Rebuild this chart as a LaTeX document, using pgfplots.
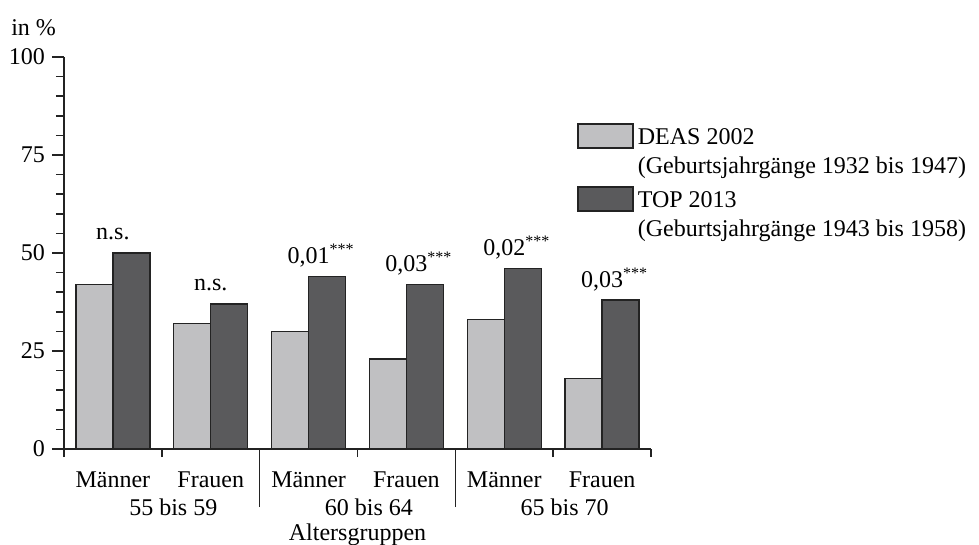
\documentclass[border=0pt]{standalone}
\usepackage{fontspec}
\setmainfont{Liberation Serif}
\usepackage{pgfplots}
\pgfplotsset{compat=1.18}
\definecolor{deas}{RGB}{192,192,194}
\definecolor{topc}{RGB}{90,90,92}
\definecolor{edge}{RGB}{35,35,35}

\begin{document}
\begin{tikzpicture}[font=\fontsize{12}{14.5}\selectfont]
\path[use as bounding box] (-32pt,-48pt) rectangle (457.5pt,224.5pt);
\begin{axis}[
  at={(0,0)}, anchor=south west,
  scale only axis, width=293.5pt, height=196pt,
  ybar=0pt, bar width=18.5pt,
  xmin=-0.5, xmax=5.5, ymin=0, ymax=100,
  axis x line=bottom, axis y line=left,
  axis line style={-, edge, line width=0.8pt},
  every tick/.style={edge, line width=0.8pt},
  tick align=outside,
  major tick length=6pt, minor tick length=4pt,
  xtick={0,...,5},
  xticklabels={Männer,Frauen,Männer,Frauen,Männer,Frauen},
  major x tick style={draw=none},
  minor xtick={-0.5,0.5,2.5,4.5,5.5},
  extra x ticks={1.5,3.5}, extra x tick labels={},
  extra x tick style={major tick length=29pt, major x tick style={draw=edge, line width=0.8pt}},
  xticklabel style={anchor=base, yshift=-13pt, inner sep=0pt},
  ytick={0,25,50,75,100},
  minor y tick num=4,
  yticklabel style={anchor=east, xshift=0pt},
  /pgf/number format/assume math mode=true,
  legend style={draw=none, fill=none, inner sep=0pt, at={(axis description cs:0.874,0.832)}, anchor=north west,
    cells={anchor=north west, align=left}, row sep=3pt,
    /tikz/every even column/.append style={column sep=3.5pt}},
  legend image code/.code={\draw[#1] (0pt,-12pt) rectangle (27.5pt,0pt);},
  clip=false,
]
\addplot[fill=deas, draw=edge, line width=0.7pt] coordinates {(0,42) (1,32) (2,30) (3,23) (4,33) (5,18)};
\addplot[fill=topc, draw=edge, line width=0.7pt,
  nodes near coords, point meta=explicit symbolic,
  every node near coord/.style={anchor=base, yshift=6.5pt, inner sep=0pt, text=black}]
  coordinates {(0,50) [n.s.] (1,37) [n.s.] (2,44) [{0,01\rlap{\textsuperscript{***}}}]
    (3,42) [{0,03\rlap{\textsuperscript{***}}}] (4,46) [{0,02\rlap{\textsuperscript{***}}}]
    (5,38) [{0,03\rlap{\textsuperscript{***}}}]};
\legend{DEAS 2002\\(Geburtsjahrgänge 1932 bis 1947), TOP 2013\\(Geburtsjahrgänge 1943 bis 1958)}
\node[anchor=base, xshift=5.75pt, yshift=-33.5pt] at (axis cs:0.5,0) {55 bis 59};
\node[anchor=base, xshift=5.75pt, yshift=-33.5pt] at (axis cs:2.5,0) {60 bis 64};
\node[anchor=base, xshift=5.75pt, yshift=-33.5pt] at (axis cs:4.5,0) {65 bis 70};
\node[anchor=base, yshift=-45.5pt] at (axis cs:2.5,0) {Altersgruppen};
\node[anchor=base east, xshift=-0.5pt, yshift=10.5pt] at (rel axis cs:0,1) {in \%};
\end{axis}
\end{tikzpicture}
\end{document}
